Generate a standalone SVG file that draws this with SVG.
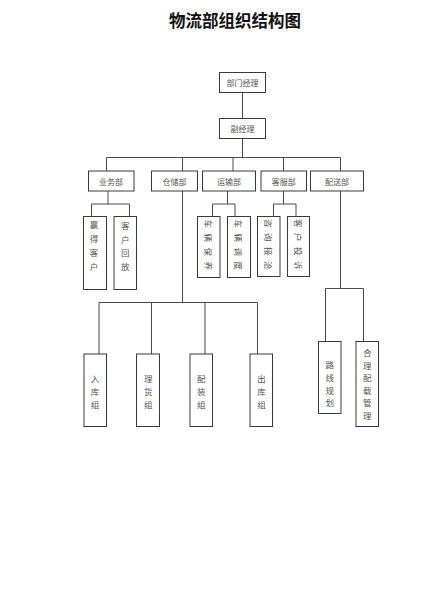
<svg xmlns="http://www.w3.org/2000/svg" width="425" height="601" viewBox="0 0 425 601">
<style>
.bg{fill:#ffffff}
.box{fill:#ffffff;stroke:#3a3a3a;stroke-width:1}
.ln{fill:none;stroke:#4a4a4a;stroke-width:1}
.t{font-family:"Noto Sans CJK SC",sans-serif;font-size:8px;fill:#555555;text-anchor:middle;dominant-baseline:central}
.v{font-family:"Noto Sans CJK SC",sans-serif;font-size:8.5px;fill:#555555;text-anchor:middle;dominant-baseline:central}
.r{font-family:"Noto Sans CJK SC",sans-serif;font-size:8.5px;fill:#555555;text-anchor:middle;dominant-baseline:central;letter-spacing:5.5px}
.title{font-family:"Noto Sans CJK SC",sans-serif;font-size:16.5px;font-weight:bold;fill:#111111;text-anchor:middle;dominant-baseline:central}
</style>
<rect class="bg" x="0" y="0" width="425" height="601"/>
<text class="title" x="235" y="20">物流部组织结构图</text>
<g id="connectors">
<path class="ln" d="M242.5,92.5 V118.5 M242.5,138.5 V157.5 M106.5,157.5 H340.5 M106.5,157.5 V171 M182.5,157.5 V171 M233,157.5 V171 M283.5,157.5 V171 M340.5,157.5 V171"/>
<path class="ln" d="M108,191 V204 M91.5,204 H129.5 M91.5,204 V216.5 M129.5,204 V216.5"/>
<path class="ln" d="M227.5,191 V204 M212.5,204 H235 M212.5,204 V216.5 M235,204 V216.5"/>
<path class="ln" d="M283.5,191 V204 M273.5,204 H296 M273.5,204 V216.5 M296,204 V216.5"/>
<path class="ln" d="M182.5,191 V302.5 M99,302.5 H257.5 M99,302.5 V354 M151.5,302.5 V354 M205,302.5 V354 M257.5,302.5 V354"/>
<path class="ln" d="M340.5,191 V288.5 M325.5,288.5 H363.5 M325.5,288.5 V341.5 M363.5,288.5 V341.5"/>
</g>
<g id="n-manager"><rect class="box" x="219.5" y="72.5" width="46" height="20"/><text class="t" x="242.5" y="82.5">部门经理</text></g>
<g id="n-deputy"><rect class="box" x="219.5" y="118.5" width="46" height="20"/><text class="t" x="242.5" y="128.5">副经理</text></g>
<g id="n-yewu"><rect class="box" x="88.5" y="171" width="45.5" height="20"/><text class="t" x="111" y="181">业务部</text></g>
<g id="n-cangchu"><rect class="box" x="151.5" y="171" width="46" height="20"/><text class="t" x="174.5" y="181">仓储部</text></g>
<g id="n-yunshu"><rect class="box" x="202.5" y="171" width="53" height="20"/><text class="t" x="229" y="181">运输部</text></g>
<g id="n-kefu"><rect class="box" x="261" y="171" width="45.5" height="20"/><text class="t" x="283.7" y="181">客服部</text></g>
<g id="n-peisong"><rect class="box" x="310.5" y="171" width="53" height="20"/><text class="t" x="337" y="181">配送部</text></g>
<g id="n-yingde"><rect class="box" x="83.5" y="216.5" width="23" height="73"/><text class="v"><tspan x="94" y="224">赢</tspan><tspan x="94" y="238">得</tspan><tspan x="94" y="252">客</tspan><tspan x="94" y="266">户</tspan></text></g>
<g id="n-huifang"><rect class="box" x="114" y="216.5" width="22.5" height="73"/><text class="v"><tspan x="125.3" y="225">客</tspan><tspan x="125.3" y="238.5">户</tspan><tspan x="125.3" y="252">回</tspan><tspan x="125.3" y="265.5">放</tspan></text></g>
<g id="n-baoyang"><rect class="box" x="197.5" y="216.5" width="22.5" height="61"/><text class="r" transform="translate(208.8,247.5) rotate(90)">车辆保养</text></g>
<g id="n-diaodu"><rect class="box" x="227.5" y="216.5" width="23" height="61"/><text class="r" transform="translate(239,247.5) rotate(90)">车辆调度</text></g>
<g id="n-zixun"><rect class="box" x="257.5" y="216.5" width="22.5" height="60"/><text class="r" transform="translate(268.8,247) rotate(90)">咨询接洽</text></g>
<g id="n-tousu"><rect class="box" x="287.5" y="216.5" width="22" height="60"/><text class="r" transform="translate(298.5,247) rotate(90)">客户投诉</text></g>
<g id="n-ruku"><rect class="box" x="84" y="354" width="22.5" height="72.5"/><text class="v"><tspan x="95" y="377.5">入</tspan><tspan x="95" y="390.5">库</tspan><tspan x="95" y="403.5">组</tspan></text></g>
<g id="n-lihuo"><rect class="box" x="136.5" y="354" width="23" height="72.5"/><text class="v"><tspan x="148.2" y="377.5">理</tspan><tspan x="148.2" y="390.5">货</tspan><tspan x="148.2" y="403.5">组</tspan></text></g>
<g id="n-peizhuang"><rect class="box" x="190" y="354" width="22.5" height="72.5"/><text class="v"><tspan x="201.3" y="377.5">配</tspan><tspan x="201.3" y="390.5">装</tspan><tspan x="201.3" y="403.5">组</tspan></text></g>
<g id="n-chuku"><rect class="box" x="250" y="354" width="22.5" height="72.5"/><text class="v"><tspan x="261.5" y="377.5">出</tspan><tspan x="261.5" y="390.5">库</tspan><tspan x="261.5" y="403.5">组</tspan></text></g>
<g id="n-luxian"><rect class="box" x="318.5" y="341.5" width="22.5" height="72"/><text class="v"><tspan x="329.7" y="363.5">路</tspan><tspan x="329.7" y="376.5">线</tspan><tspan x="329.7" y="389.5">规</tspan><tspan x="329.7" y="402">划</tspan></text></g>
<g id="n-heli"><rect class="box" x="356" y="341.5" width="22.5" height="85"/><text class="v"><tspan x="367.2" y="352">合</tspan><tspan x="367.2" y="364.5">理</tspan><tspan x="367.2" y="377">配</tspan><tspan x="367.2" y="389.5">载</tspan><tspan x="367.2" y="402">管</tspan><tspan x="367.2" y="414.5">理</tspan></text></g>
</svg>
